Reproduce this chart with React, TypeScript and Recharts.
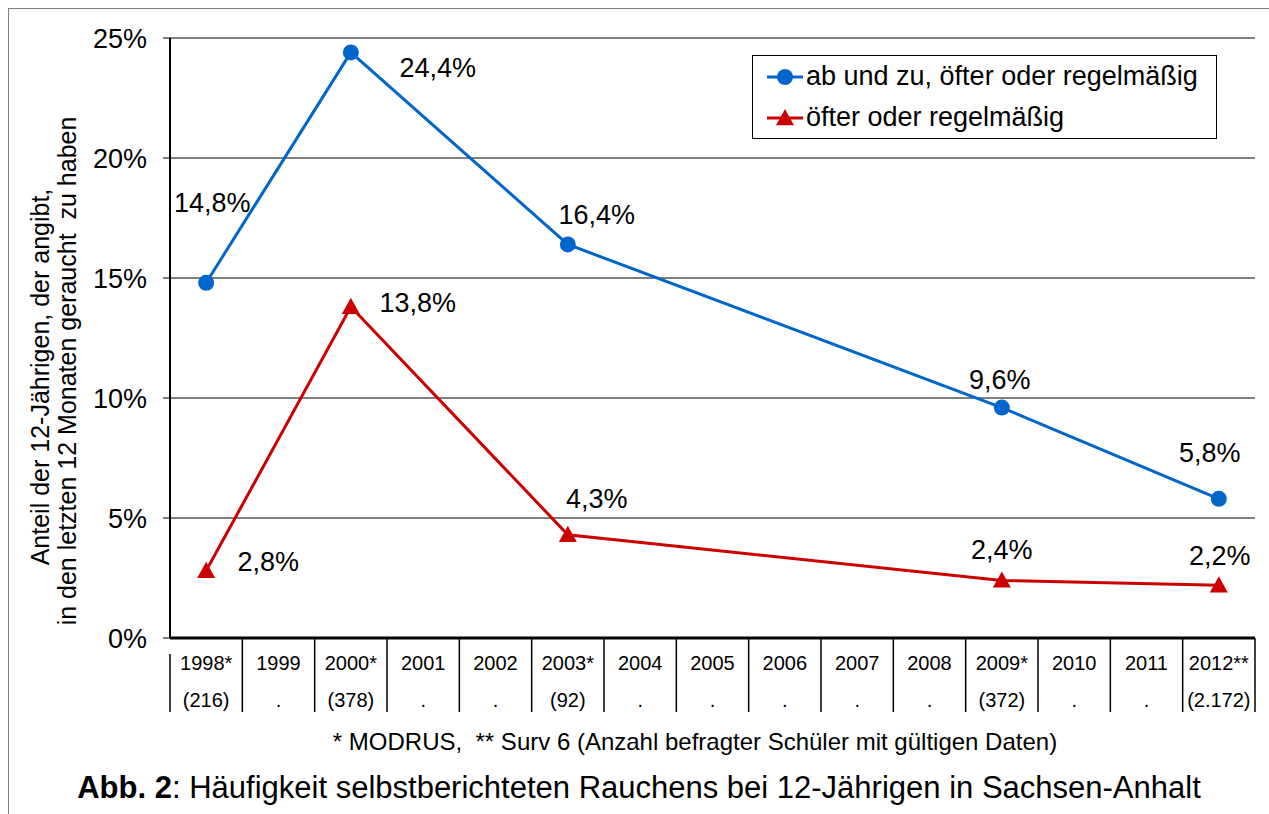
import { LineChart, Line, XAxis, YAxis, CartesianGrid, Legend, LabelList } from "recharts"

// survey years (x categories) and the number of pupils asked per survey
const years = ["1998*", "1999", "2000*", "2001", "2002", "2003*", "2004", "2005", "2006", "2007", "2008", "2009*", "2010", "2011", "2012**"]
const sampleSizes = ["(216)", ".", "(378)", ".", ".", "(92)", ".", ".", ".", ".", ".", "(372)", ".", ".", "(2.172)"]

// share of 12-year-olds in %
const occasionalOrMore = [14.8, null, 24.4, null, null, 16.4, null, null, null, null, null, 9.6, null, null, 5.8]
const frequentOrRegular = [2.8, null, 13.8, null, null, 4.3, null, null, null, null, null, 2.4, null, null, 2.2]

const yTicks = [0, 5, 10, 15, 20, 25]

const seriesNames = ["ab und zu, öfter oder regelmäßig", "öfter oder regelmäßig"]

// where each value label sits relative to its point (dx, dy to label centre)
const blueLabelOffset: Record<number, [number, number]> = { 0: [6, -80], 2: [87, 16], 5: [29, -29], 11: [-2, -28], 14: [-9, -46] }
const redLabelOffset: Record<number, [number, number]> = { 0: [62, -9], 2: [67, -4], 5: [29, -36], 11: [0, -30], 14: [1, -29] }

const BLUE = "#0066CC"
const RED = "#CC0000"
const FONT = "'Liberation Sans', Arial, sans-serif"

const data = years.map((y, i) => ({
    year: y,
    n: sampleSizes[i],
    occasional: occasionalOrMore[i],
    regular: frequentOrRegular[i],
}))

const fmt = (v: number) => v.toFixed(1).replace(".", ",") + "%"

const makeLabel = (offsets: Record<number, [number, number]>) => (p: any) => {
    const { x, y, value, index } = p
    if (value == null || x == null || y == null) return null
    const [dx, dy] = offsets[index] ?? [0, -30]
    return (
        <text key={"l" + index} x={x + dx} y={y + dy + 9} textAnchor="middle" fontSize={27} fontFamily={FONT} fill="#000">
            {fmt(value)}
        </text>
    )
}

const CircleDot = (p: any) => {
    const { cx, cy, index } = p
    if (cx == null || cy == null || p.value == null) return <g key={"c" + index} />
    return <circle key={"c" + index} cx={cx} cy={cy} r={8} fill={BLUE} />
}

const triPath = (cx: number, cy: number, s: number) =>
    `M${cx},${cy - s} L${cx + s},${cy + s * 0.8} L${cx - s},${cy + s * 0.8} Z`

const TriangleDot = (p: any) => {
    const { cx, cy, index } = p
    if (cx == null || cy == null || p.value == null) return <g key={"t" + index} />
    return <path key={"t" + index} d={triPath(cx, cy, 9)} fill={RED} />
}

// x axis drawn as a two-row table: year / sample size, with cell borders
const TableTick = (props: any) => {
    const { x, y, payload, index, width, visibleTicksCount } = props
    const half = payload?.offset || (width ?? 1085) / (visibleTicksCount ?? 15) / 2
    return (
        <g>
            <text x={x} y={y + 32} textAnchor="middle" fontSize={20} fontFamily={FONT} fill="#000">{payload.value}</text>
            <text x={x} y={y + 69} textAnchor="middle" fontSize={20} fontFamily={FONT} fill="#000">{sampleSizes[index]}</text>
            <line x1={x + half} x2={x + half} y1={y} y2={y + 74} stroke="#000" strokeWidth={1.5} />
            {index === 0 && <line x1={x - half} x2={x - half} y1={y + 16} y2={y + 74} stroke="#000" strokeWidth={1.5} />}
        </g>
    )
}

const LegendBox = () => (
    <div style={{ border: "1px solid #000", background: "#fff", height: 82, fontFamily: FONT, fontSize: 27, color: "#000" }}>
        {seriesNames.map((name, i) => (
            <div key={name} style={{ height: 41, display: "flex", alignItems: "center" }}>
                <svg width={38} height={24} style={{ marginLeft: 14 }}>
                    <line x1={0} x2={36} y1={12} y2={12} stroke={i === 0 ? BLUE : RED} strokeWidth={3} />
                    {i === 0 ? <circle cx={18} cy={12} r={8} fill={BLUE} /> : <path d={triPath(18, 12, 9)} fill={RED} />}
                </svg>
                <span style={{ marginLeft: 1, whiteSpace: "nowrap" }}>{name}</span>
            </div>
        ))}
    </div>
)

const App = () => {
    return (
        <div style={{ position: "absolute", left: 0, top: 0, width: 1269, height: 814, overflow: "hidden", background: "#fff", fontFamily: FONT }}>
            <div style={{ position: "absolute", left: 8, top: 8, width: 1300, height: 900, border: "1.5px solid #808080" }} />
            <div style={{ position: "absolute", left: 0, top: 0 }}>
                <LineChart width={1269} height={814} data={data} margin={{ top: 38, right: 14, left: 110, bottom: 96 }}>
                    <CartesianGrid vertical={false} stroke="#000" strokeWidth={1} />
                    <XAxis dataKey="year" scale="band" interval={0} tickLine={false} tickSize={0} tickMargin={0} height={80}
                        axisLine={{ stroke: "#000", strokeWidth: 3 }} tick={<TableTick />} />
                    <YAxis domain={[0, 25]} ticks={yTicks} width={60} tickFormatter={(v) => v + "%"} tickSize={7} tickMargin={16}
                        axisLine={{ stroke: "#000", strokeWidth: 2 }} tickLine={{ stroke: "#000" }}
                        tick={{ fontSize: 27, fill: "#000", fontFamily: FONT }} />
                    <YAxis yAxisId="right" orientation="right" domain={[0, 25]} width={0} tick={false} tickLine={false}
                        axisLine={{ stroke: "#808080", strokeWidth: 2 }} />
                    <Legend layout="vertical" align="center" verticalAlign="middle"
                        wrapperStyle={{ left: 752, top: 55, width: 465 }} content={<LegendBox />} />
                    <Line dataKey="occasional" name={seriesNames[0]} stroke={BLUE} strokeWidth={3} connectNulls
                        dot={CircleDot} activeDot={false} isAnimationActive={false}>
                        <LabelList dataKey="occasional" content={makeLabel(blueLabelOffset)} />
                    </Line>
                    <Line dataKey="regular" name={seriesNames[1]} stroke={RED} strokeWidth={3} connectNulls
                        dot={TriangleDot} activeDot={false} isAnimationActive={false}>
                        <LabelList dataKey="regular" content={makeLabel(redLabelOffset)} />
                    </Line>
                </LineChart>
            </div>
            <svg style={{ position: "absolute", left: 0, top: 0 }} width={120} height={700}>
                <text transform="translate(49,377) rotate(-90)" textAnchor="middle" fontSize={25} fontFamily={FONT} fill="#000">
                    Anteil der 12-Jährigen, der angibt,
                </text>
                <text transform="translate(76,371) rotate(-90)" textAnchor="middle" fontSize={25} fontFamily={FONT} fill="#000" style={{ whiteSpace: "pre" }}>
                    {"in den letzten 12 Monaten geraucht  zu haben"}
                </text>
            </svg>
            <div style={{ position: "absolute", left: 0, width: 1390, top: 727, textAlign: "center", fontSize: 24, lineHeight: "30px", color: "#000", whiteSpace: "pre" }}>
                {"* MODRUS,  ** Surv 6 (Anzahl befragter Schüler mit gültigen Daten)"}
            </div>
            <div style={{ position: "absolute", left: 0, width: 1278, top: 769, textAlign: "center", fontSize: 31, lineHeight: "38px", color: "#000", whiteSpace: "nowrap" }}>
                <b>Abb. 2</b>: Häufigkeit selbstberichteten Rauchens bei 12-Jährigen in Sachsen-Anhalt
            </div>
        </div>
    )
}

export default App
